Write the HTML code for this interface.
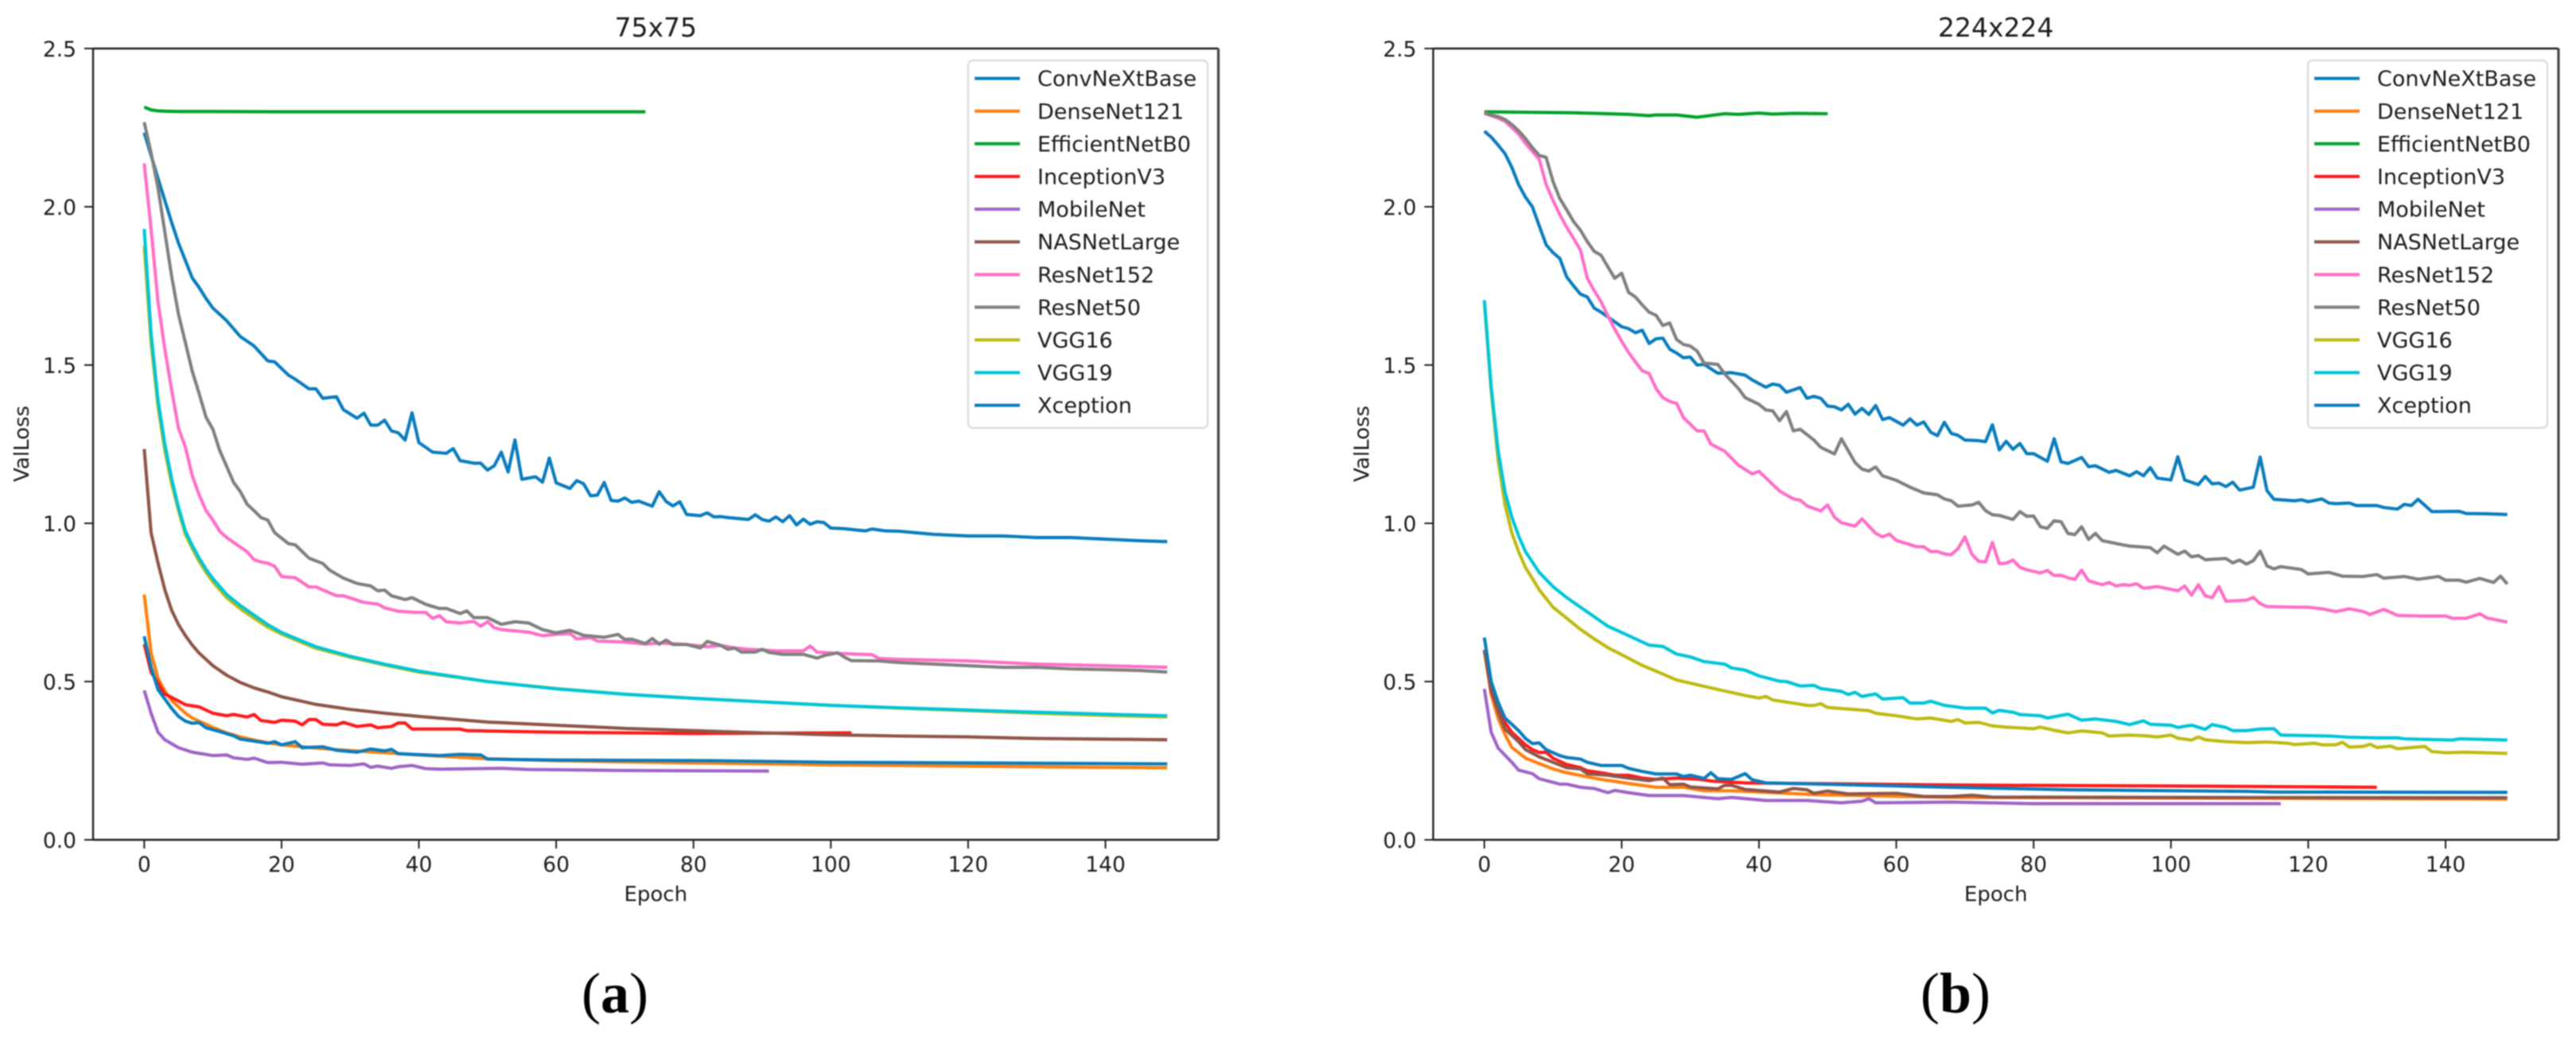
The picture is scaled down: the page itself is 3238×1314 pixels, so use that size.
<!DOCTYPE html>
<html lang="en">
<head>
<meta charset="utf-8">
<title>Validation loss per epoch at 75x75 and 224x224</title>
<style>
html,body{margin:0;padding:0;background:#fff;}
body{width:3238px;height:1314px;overflow:hidden;}
svg{display:block;filter:blur(0.8px);}
text{font-family:"DejaVu Sans","Liberation Sans",sans-serif;fill:#1c1c1c;}
.caption{font-family:"Liberation Serif",serif;fill:#000;}
</style>
</head>
<body>
<svg id="figure" xmlns="http://www.w3.org/2000/svg" width="3238" height="1314" viewBox="0 0 3238 1314">
  <rect width="3238" height="1314" fill="#fff"/>
  <text class="caption" x="773" y="1273" font-size="72" text-anchor="middle">(<tspan font-weight="bold">a</tspan>)</text>
  <text class="caption" x="2458" y="1273" font-size="72" text-anchor="middle">(<tspan font-weight="bold">b</tspan>)</text>
</svg>
<script>
// ---- shared categories and tick labels ----
const seriesNames = ["ConvNeXtBase","DenseNet121","EfficientNetB0","InceptionV3","MobileNet","NASNetLarge","ResNet152","ResNet50","VGG16","VGG19","Xception"];
const seriesColors = ["#0a7dbd","#ff7f0e","#00a32a","#ff1a1a","#a064c8","#8f5548","#ff6ec7","#808080","#bcbb10","#00c5d8","#0a7dbd"];
const xTicks = [0,20,40,60,80,100,120,140];
const yTicks = [0.0,0.5,1.0,1.5,2.0,2.5];
const smoothEpochs = [0,1,2,3,4,5,6,7,8,9,
  10,12,14,16,18,20,25,30,35,40,
  50,60,70,80,90,100,110,120,130,140,
  149];

// ---- panel (a) 75x75 ----
const a_convnext_epochs = [0,2,4,5,7,8,9,10,12,14,
  15,16,18,19,21,22,24,25,26,28,
  29,31,32,33,34,35,36,37,38,39,
  40,42,44,45,46,48,49,50,51,52,
  53,54,55,57,58,59,60,62,63,64,
  65,66,67,68,69,70,71,72,74,75,
  76,77,78,79,81,82,83,84,85,88,
  89,90,91,92,93,94,95,96,97,98,
  99,100,102,105,106,108,110,115,120,125,
  130,135,140,145,149];
const a_convnext_loss = [2.234,2.09,1.95,1.885,1.775,1.745,1.71,1.68,1.64,1.59,
  1.575,1.56,1.513,1.51,1.468,1.455,1.425,1.425,1.395,1.4,
  1.359,1.332,1.348,1.31,1.31,1.326,1.292,1.286,1.263,1.349,
  1.255,1.225,1.221,1.236,1.198,1.19,1.19,1.168,1.182,1.225,
  1.162,1.263,1.139,1.147,1.13,1.206,1.128,1.11,1.135,1.125,
  1.087,1.089,1.129,1.072,1.07,1.08,1.066,1.07,1.054,1.10,
  1.069,1.055,1.068,1.028,1.024,1.033,1.02,1.021,1.018,1.012,
  1.027,1.012,1.007,1.02,1.005,1.024,.995,1.013,.997,1.005,
  1.002,.985,.983,.976,.982,.976,.975,.965,.96,.96,
  .955,.955,.95,.945,.942];
const a_densenet_loss = [.775,.59,.51,.47,.44,.42,.40,.385,.375,.365,
  .355,.338,.325,.315,.307,.30,.29,.282,.275,.268,
  .256,.25,.246,.243,.24,.237,.235,.233,.231,.229,
  .228];
const a_efficient_epochs = [0,1,2,3,5,10,20,40,60,73];
const a_efficient_loss = [2.315,2.306,2.303,2.302,2.301,2.301,2.30,2.30,2.30,2.30];
const a_inception_epochs = [0,1,3,4,6,8,10,12,13,15,
  16,17,19,20,22,23,24,25,26,28,
  29,31,33,34,36,37,38,39,43,46,
  47,60,80,103];
const a_inception_loss = [.618,.53,.46,.45,.427,.42,.40,.392,.396,.388,
  .396,.377,.371,.378,.375,.363,.38,.38,.365,.363,
  .371,.358,.363,.354,.358,.369,.369,.35,.35,.35,
  .345,.34,.336,.338];
const a_mobilenet_epochs = [0,1,2,3,5,7,10,12,13,15,
  16,18,20,23,26,27,30,32,33,34,
  36,37,39,41,43,52,56,70,91];
const a_mobilenet_loss = [.472,.40,.34,.316,.291,.277,.266,.268,.259,.254,
  .258,.244,.245,.239,.243,.237,.235,.24,.229,.233,
  .226,.231,.235,.225,.223,.226,.222,.219,.217];
const a_nasnet_loss = [1.235,.97,.875,.79,.725,.68,.645,.615,.59,.57,
  .55,.52,.497,.48,.467,.452,.428,.412,.40,.39,
  .372,.362,.352,.345,.338,.332,.328,.325,.32,.318,
  .316];
const a_resnet152_epochs = [0,1,2,3,4,5,6,7,8,9,
  10,11,12,13,14,15,16,17,18,19,
  20,22,24,25,28,29,32,34,35,37,
  39,41,42,43,44,46,48,49,50,51,
  52,54,56,58,60,62,63,65,66,70,
  73,75,79,82,84,86,88,90,92,96,
  97,98,101,106,107,110,120,130,140,149];
const a_resnet152_loss = [2.137,1.93,1.70,1.55,1.42,1.30,1.24,1.15,1.09,1.04,
  1.01,.975,.955,.94,.925,.91,.885,.878,.874,.864,
  .832,.828,.799,.799,.771,.771,.75,.745,.733,.722,
  .719,.718,.70,.708,.689,.685,.69,.675,.689,.67,
  .664,.66,.656,.645,.649,.652,.635,.639,.628,.625,
  .618,.622,.617,.61,.614,.606,.602,.60,.597,.597,
  .612,.593,.589,.585,.573,.57,.565,.555,.55,.545];
const a_resnet50_epochs = [0,1,2,3,4,5,6,7,8,9,
  10,11,12,13,14,15,16,17,18,19,
  21,22,24,26,27,29,31,33,34,35,
  36,38,39,41,43,44,46,47,48,50,
  52,54,55,56,58,60,62,64,67,69,
  70,71,73,74,75,76,77,79,81,82,
  84,85,86,87,89,90,91,93,96,98,
  99,101,102,103,107,110,115,120,125,130,
  135,140,145,149];
const a_resnet50_loss = [2.267,2.17,2.06,1.92,1.78,1.66,1.57,1.48,1.41,1.335,
  1.297,1.23,1.18,1.13,1.10,1.06,1.04,1.018,1.01,.97,
  .936,.932,.89,.873,.852,.827,.81,.802,.787,.789,
  .771,.759,.765,.744,.731,.731,.715,.723,.702,.702,
  .681,.689,.687,.685,.664,.654,.662,.646,.64,.649,
  .633,.634,.62,.636,.618,.631,.617,.617,.606,.627,
  .614,.602,.606,.593,.593,.602,.592,.586,.586,.574,
  .582,.591,.577,.566,.565,.56,.555,.55,.545,.545,
  .54,.538,.535,.53];
const a_vgg16_loss = [1.875,1.57,1.37,1.23,1.125,1.04,.965,.92,.88,.845,
  .815,.765,.73,.70,.672,.65,.605,.577,.552,.53,
  .50,.478,.46,.447,.436,.425,.416,.408,.40,.393,
  .388];
const a_vgg19_loss = [1.93,1.6,1.39,1.25,1.14,1.05,.975,.93,.89,.855,
  .825,.775,.74,.71,.68,.655,.61,.58,.555,.533,
  .50,.477,.46,.447,.436,.425,.417,.41,.403,.397,
  .392];
const a_xception_epochs = [0,1,2,3,4,5,6,7,8,9,
  11,13,14,16,18,19,20,22,23,26,
  28,31,33,35,36,37,43,46,49,50,
  60,83,100,120,149];
const a_xception_loss = [.643,.545,.475,.445,.415,.39,.375,.368,.37,.354,
  .342,.329,.318,.312,.305,.31,.30,.31,.291,.294,
  .283,.277,.287,.281,.286,.272,.266,.27,.268,.255,
  .252,.25,.245,.243,.24];

// ---- panel (b) 224x224 ----
const b_convnext_epochs = [0,1,2,3,4,5,6,7,8,9,
  10,11,12,13,14,15,16,
  17,20,21,22,23,24,25,26,27,28,
  29,30,31,32,34,36,38,39,41,42,
  43,44,46,47,48,49,50,51,52,53,
  54,55,56,57,58,59,61,62,63,64,
  65,66,67,68,69,70,72,73,74,75,
  76,77,78,79,80,82,83,84,85,87,
  88,89,91,92,94,95,96,97,98,100,
  101,102,104,105,106,107,108,109,110,112,
  113,114,115,118,119,120,122,123,124,126,
  127,130,131,133,134,135,136,138,142,143,
  146,149];
const b_convnext_loss = [2.239,2.22,2.195,2.168,2.125,2.07,2.03,2.00,1.94,1.88,
  1.855,1.837,1.778,1.75,1.724,1.715,1.68,
  1.667,1.621,1.615,1.602,1.61,1.568,1.583,1.585,1.55,1.538,
  1.523,1.525,1.5,1.502,1.474,1.476,1.468,1.453,1.43,1.44,
  1.436,1.414,1.429,1.395,1.401,1.395,1.37,1.368,1.358,1.376,
  1.345,1.363,1.344,1.372,1.328,1.334,1.31,1.33,1.31,1.32,
  1.288,1.277,1.319,1.284,1.278,1.263,1.261,1.258,1.311,1.232,
  1.259,1.234,1.252,1.22,1.22,1.196,1.267,1.194,1.189,1.208,
  1.179,1.182,1.161,1.167,1.15,1.163,1.15,1.176,1.143,1.137,
  1.21,1.137,1.122,1.148,1.125,1.127,1.116,1.13,1.105,1.114,
  1.209,1.103,1.076,1.071,1.074,1.068,1.077,1.064,1.062,1.064,
  1.056,1.056,1.05,1.045,1.06,1.056,1.076,1.037,1.038,1.031,
  1.03,1.028];
const b_densenet_epochs = [0,1,2,3,4,6,8,10,12,15,
  17,21,25,29,32,36,38,48,68,85,
  149];
const b_densenet_loss = [.60,.46,.384,.333,.292,.258,.241,.224,.212,.199,
  .191,.178,.166,.166,.155,.155,.153,.143,.134,.133,
  .129];
const b_efficient_epochs = [0,13,21,24,25,28,31,35,37,40,42,45,50];
const b_efficient_loss = [2.30,2.297,2.292,2.288,2.29,2.29,2.283,2.294,2.292,2.296,2.293,2.295,2.294];
const b_inception_epochs = [0,1,2,3,4,5,6,7,8,9,
  10,12,14,15,17,19,21,23,25,28,
  31,33,36,38,68,100,130];
const b_inception_loss = [.60,.47,.41,.37,.34,.32,.30,.285,.276,.277,
  .258,.238,.228,.218,.212,.204,.204,.195,.191,.195,
  .192,.186,.182,.18,.173,.17,.166];
const b_mobilenet_epochs = [0,1,2,4,5,7,8,11,12,14,
  16,18,19,21,24,29,34,36,41,47,
  52,55,56,57,68,80,116];
const b_mobilenet_loss = [.477,.34,.29,.245,.22,.209,.193,.176,.176,.166,
  .162,.149,.156,.149,.14,.14,.13,.134,.124,.124,
  .117,.122,.13,.117,.119,.114,.114];
const b_nasnet_epochs = [0,1,2,3,5,6,8,10,12,14,
  15,18,21,24,26,27,29,30,34,35,
  36,38,43,45,47,48,50,53,60,64,
  68,71,74,100,149];
const b_nasnet_loss = [.60,.475,.405,.35,.31,.285,.262,.245,.228,.224,
  .209,.204,.195,.187,.195,.174,.176,.167,.161,.172,
  .172,.159,.151,.162,.158,.147,.154,.145,.147,.137,
  .137,.141,.135,.134,.133];
const b_resnet152_epochs = [0,1,2,3,4,5,6,7,8,9,
  10,11,12,13,14,15,16,17,18,19,
  20,21,22,23,24,25,26,27,28,29,31,32,
  33,35,37,39,40,43,45,46,47,49,
  50,51,52,54,55,57,58,59,60,63,
  64,65,66,67,68,69,70,71,72,73,
  74,75,76,77,78,79,81,82,83,84,
  85,86,87,88,90,91,92,93,94,95,
  96,98,101,102,103,104,105,106,107,108,
  111,112,113,114,118,120,122,124,126,127,
  128,129,131,133,136,140,141,143,145,146,
  149];
const b_resnet152_loss = [2.295,2.288,2.28,2.27,2.25,2.23,2.2,2.175,2.15,2.07,
  2.02,1.975,1.935,1.9,1.863,1.774,1.735,1.70,1.655,1.613,
  1.575,1.54,1.51,1.482,1.473,1.426,1.397,1.385,1.379,1.334,1.292,1.292,
  1.25,1.228,1.184,1.156,1.164,1.102,1.077,1.073,1.055,1.039,
  1.058,1.019,1.002,.991,1.014,.968,.957,.966,.946,.926,
  .926,.911,.911,.903,.901,.92,.957,.903,.88,.878,
  .94,.872,.874,.884,.861,.853,.843,.851,.835,.836,
  .828,.823,.852,.818,.806,.813,.802,.806,.804,.809,
  .795,.80,.787,.802,.773,.806,.771,.765,.8,.754,
  .757,.766,.746,.737,.735,.735,.73,.721,.73,.726,
  .721,.712,.728,.709,.707,.707,.70,.70,.714,.701,
  .688];
const b_resnet50_epochs = [0,1,2,3,4,5,6,7,8,9,
  10,11,12,13,14,15,16,17,18,19,20,21,22,23,24,25,26,
  27,28,29,30,31,32,34,35,37,38,
  40,41,42,43,44,45,46,48,49,51,
  52,54,55,56,57,58,60,62,64,66,
  67,68,69,71,72,73,74,75,77,78,
  79,80,81,82,83,84,85,86,87,88,
  89,90,93,94,97,98,99,101,102,103,
  104,105,108,109,110,111,112,113,114,115,
  116,119,120,123,125,128,130,131,134,136,
  139,140,142,143,145,147,148,149];
const b_resnet50_loss = [2.298,2.29,2.285,2.276,2.26,2.24,2.215,2.187,2.162,2.156,
  2.08,2.026,1.99,1.953,1.926,1.89,1.859,1.847,1.81,1.774,1.79,1.73,1.715,1.69,1.667,1.657,1.625,
  1.633,1.581,1.565,1.56,1.544,1.506,1.502,1.472,1.426,1.397,
  1.376,1.358,1.355,1.324,1.353,1.292,1.297,1.263,1.24,1.219,
  1.267,1.192,1.171,1.165,1.178,1.15,1.136,1.114,1.096,1.09,
  1.077,1.071,1.054,1.058,1.066,1.04,1.027,1.025,1.012,1.037,
  1.022,1.023,.989,.984,1.008,1.005,.968,.964,.989,.949,
  .968,.945,.932,.928,.923,.907,.928,.902,.912,.894,
  .898,.885,.889,.875,.884,.871,.882,.912,.865,.856,
  .863,.854,.84,.845,.833,.832,.838,.827,.832,.823,
  .832,.82,.82,.814,.826,.813,.833,.808];
const b_vgg16_epochs = [0,1,2,3,4,5,6,8,10,12,
  14,16,18,20,23,25,28,33,38,40,41,42,
  47,48,49,50,56,57,60,63,65,68,
  69,70,72,74,76,80,81,83,85,87,
  90,91,94,96,98,100,101,103,104,105,
  108,111,114,117,118,121,122,124,125,126,
  128,129,130,132,133,137,138,140,143,149];
const b_vgg16_loss = [1.70,1.42,1.2,1.06,.97,.91,.86,.79,.735,.70,
  .665,.635,.607,.585,.551,.533,.505,.48,.456,.448,.453,.442,
  .425,.424,.43,.418,.408,.4,.392,.382,.385,.374,
  .38,.369,.371,.36,.356,.351,.356,.346,.338,.344,
  .338,.328,.331,.329,.325,.331,.321,.315,.325,.316,
  .31,.307,.309,.305,.301,.305,.30,.30,.308,.293,
  .295,.302,.292,.296,.288,.295,.279,.275,.277,.273];
const b_vgg19_epochs = [0,1,2,3,4,5,6,8,10,12,
  15,18,20,24,26,28,30,32,35,36,
  38,40,43,44,46,48,49,52,53,54,
  55,57,58,61,62,64,65,67,70,73,
  74,75,77,78,81,82,85,87,89,92,
  94,96,97,100,101,103,105,106,108,109,
  111,113,115,116,123,126,130,133,134,141,
  142,149];
const b_vgg19_loss = [1.705,1.43,1.23,1.10,1.02,.96,.91,.845,.80,.765,
  .72,.675,.655,.615,.611,.587,.578,.563,.555,.543,
  .536,.518,.501,.50,.486,.488,.478,.469,.459,.466,
  .453,.461,.445,.449,.432,.432,.438,.425,.416,.416,
  .401,.409,.403,.396,.392,.385,.397,.378,.382,.374,
  .364,.376,.365,.362,.355,.362,.349,.364,.355,.345,
  .345,.35,.351,.331,.328,.324,.322,.322,.319,.315,
  .319,.315];
const b_xception_epochs = [0,1,2,3,5,6,7,8,9,11,
  12,14,15,17,20,21,23,25,28,29,
  30,32,33,34,36,38,39,41,49,68,
  85,111,115,149];
const b_xception_loss = [.639,.50,.435,.385,.345,.32,.304,.306,.285,.266,
  .26,.255,.245,.235,.235,.226,.216,.208,.208,.2,
  .204,.194,.212,.193,.191,.209,.19,.18,.176,.166,
  .158,.153,.151,.15];

const panelAEpochs = [a_convnext_epochs,smoothEpochs,a_efficient_epochs,a_inception_epochs,a_mobilenet_epochs,smoothEpochs,a_resnet152_epochs,a_resnet50_epochs,smoothEpochs,smoothEpochs,a_xception_epochs];
const panelALoss = [a_convnext_loss,a_densenet_loss,a_efficient_loss,a_inception_loss,a_mobilenet_loss,a_nasnet_loss,a_resnet152_loss,a_resnet50_loss,a_vgg16_loss,a_vgg19_loss,a_xception_loss];
const panelBEpochs = [b_convnext_epochs,b_densenet_epochs,b_efficient_epochs,b_inception_epochs,b_mobilenet_epochs,b_nasnet_epochs,b_resnet152_epochs,b_resnet50_epochs,b_vgg16_epochs,b_vgg19_epochs,b_xception_epochs];
const panelBLoss = [b_convnext_loss,b_densenet_loss,b_efficient_loss,b_inception_loss,b_mobilenet_loss,b_nasnet_loss,b_resnet152_loss,b_resnet50_loss,b_vgg16_loss,b_vgg19_loss,b_xception_loss];

const SVG_NS = "http://www.w3.org/2000/svg";
const figure = document.getElementById("figure");

function make(parent, tag, attrs, text) {
  const el = document.createElementNS(SVG_NS, tag);
  for (const k in attrs) el.setAttribute(k, attrs[k]);
  if (text !== undefined) el.textContent = text;
  parent.appendChild(el);
  return el;
}

function drawPanel(prefix, title, left, right, legendLeft, epochsList, lossList) {
  const top = 61, bottom = 1056;
  const margin = 149 * 0.05;
  const xScale = v => left + (v + margin) * (right - left) / (149 + 2 * margin);
  const yScale = v => bottom - v * (bottom - top) / 2.5;
  const centerX = (left + right) / 2;

  const g = make(figure, "g", {});
  
  

  const titleEl = make(g, "text", {x: centerX, y: 46, "font-size": 33, "text-anchor": "middle"}, title);
  
  

  // series
  seriesNames.forEach((name, i) => {
    const eps = epochsList[i], loss = lossList[i];
    const n = Math.min(eps.length, loss.length);
    let d = "";
    for (let k = 0; k < n; k++) {
      d += (k ? "L" : "M") + xScale(eps[k]).toFixed(1) + " " + yScale(loss[k]).toFixed(1);
    }
    const line = make(g, "path", {d: d, fill: "none", stroke: seriesColors[i], "stroke-width": 4.1, "stroke-linejoin": "round"});
    
    
  });

  // spines
  const spineLeft = make(g, "line", {x1: left, x2: left, y1: top, y2: bottom, stroke: "#222", "stroke-width": 2.4});
  
  
  const spineBottom = make(g, "line", {x1: left, x2: right, y1: bottom, y2: bottom, stroke: "#222", "stroke-width": 2.4});
  
  
  const spineTop = make(g, "line", {x1: left, x2: right, y1: top, y2: top, stroke: "#222", "stroke-width": 2.4});
  
  
  const spineRight = make(g, "line", {x1: right, x2: right, y1: top, y2: bottom, stroke: "#444", "stroke-width": 3.2});
  
  

  // x ticks
  xTicks.forEach(t => {
    const x = xScale(t);
    const mark = make(g, "line", {x1: x, x2: x, y1: bottom, y2: bottom + 11, stroke: "#222", "stroke-width": 2});
    
    
    const label = make(g, "text", {x: x, y: 1096, "font-size": 26.5, "text-anchor": "middle"}, String(t));
    
    
  });

  // y ticks
  yTicks.forEach(t => {
    const y = yScale(t);
    const mark = make(g, "line", {x1: left - 11, x2: left, y1: y, y2: y, stroke: "#222", "stroke-width": 2});
    
    
    const label = make(g, "text", {x: left - 21, y: y + 10, "font-size": 26.5, "text-anchor": "end"}, t.toFixed(1));
    
    
  });

  const xTitle = make(g, "text", {x: centerX, y: 1133, "font-size": 26, "text-anchor": "middle"}, "Epoch");
  
  
  const yLabelX = left - 81;
  const yTitle = make(g, "text", {x: yLabelX, y: 558, "font-size": 26, "text-anchor": "middle", transform: "rotate(-90 " + yLabelX + " 558)"}, "ValLoss");
  
  

  // legend
  const legendWidth = 301, legendTop = 76, legendHeight = 462;
  const legend = make(g, "g", {});
  
  
  const box = make(legend, "rect", {x: legendLeft, y: legendTop, width: legendWidth, height: legendHeight, rx: 6, ry: 6, fill: "#fff", "fill-opacity": 0.85, stroke: "#dcdcdc", "stroke-width": 2.4});
  
  
  seriesNames.forEach((name, i) => {
    const y = 98.6 + i * 41.1;
    const swatch = make(legend, "line", {x1: legendLeft + 8, x2: legendLeft + 65, y1: y, y2: y, stroke: seriesColors[i], "stroke-width": 4});
    
    
    const label = make(legend, "text", {x: legendLeft + 87, y: y + 9.6, "font-size": 27}, name);
    
    
  });
}

drawPanel("panel-a", "75x75", 117, 1531.5, 1217, panelAEpochs, panelALoss);
drawPanel("panel-b", "224x224", 1801.5, 3216, 2901, panelBEpochs, panelBLoss);
</script>
</body>
</html>
